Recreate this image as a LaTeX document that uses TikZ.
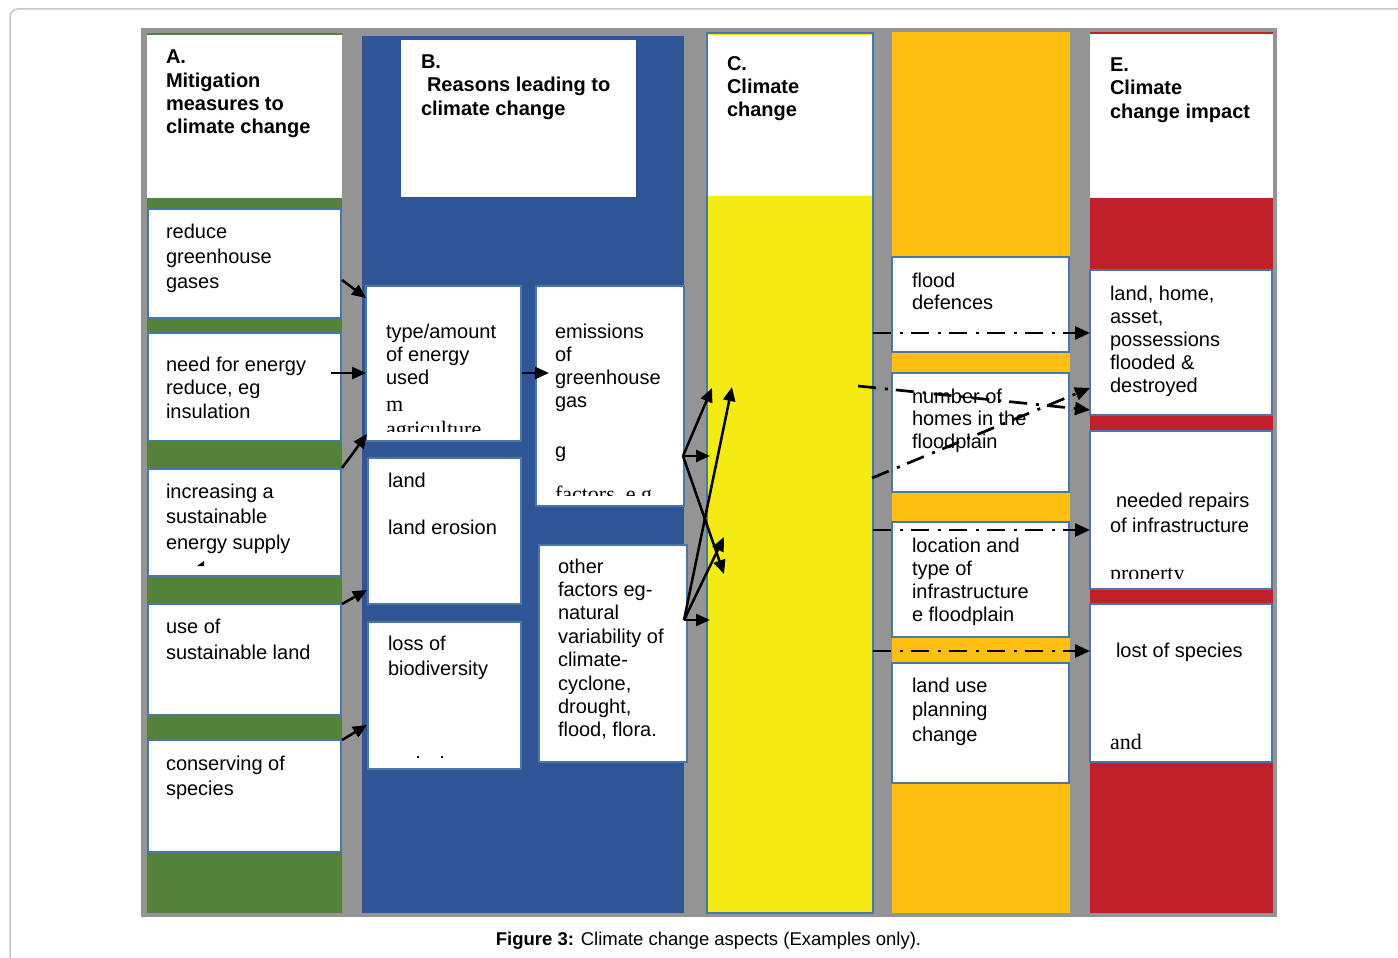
\documentclass[tikz,border=0pt]{standalone}
\usepackage{fontspec}
\setmainfont{Liberation Sans}
\newfontfamily\serifrag{Liberation Serif}
\usetikzlibrary{arrows.meta}
\definecolor{cgreen}{HTML}{54823A}
\definecolor{cblue}{HTML}{2F5597}
\definecolor{cyellow}{HTML}{F5EB14}
\definecolor{corange}{HTML}{FCBF12}
\definecolor{cred}{HTML}{C02028}
\definecolor{cgray}{HTML}{949494}
\definecolor{bbord}{HTML}{4A76A8}
\definecolor{frame}{HTML}{C8C8C8}
\tikzset{
  box/.style={draw=bbord, line width=2pt, fill=white, anchor=north west, inner sep=0pt, outer sep=0pt},
  head/.style={fill=white, anchor=north west, inner sep=0pt, outer sep=0pt},
  txt/.style={anchor=north west, inner sep=0pt, outer sep=0pt, align=left},
  arr/.style={line width=2.5pt, -{Triangle[length=14pt,width=12pt]}},
  darr/.style={line width=2.7pt, dash pattern=on 18pt off 9pt on 3pt off 8pt, -{Triangle[length=15pt,width=13pt]}},
}
\newcommand\ptext[7]{\node[txt,font={\fontsize{#4}{#5}\selectfont#6}] (#1) at (#2,{#3-0.7*#5}) {\strut #7};}
\begin{document}
\begin{tikzpicture}[x=1pt,y=-1pt]
\useasboundingbox (0,0) rectangle (1398,958);
% outer frame
\draw[frame, line width=1.5pt, rounded corners=8pt] (10,980) -- (10,9) -- (1430,9);
% gray background
\fill[cgray] (141,28) rectangle (1277,917);
% columns
\fill[cgreen] (147,33) rectangle (342,913);
\fill[cblue] (362,36) rectangle (684,913);
\draw[bbord, fill=cyellow, line width=1.5pt] (707,33) rectangle (873,913);
\fill[corange] (892,32) rectangle (1070,913);
\fill[cred] (1090,32) rectangle (1273,913);
% headers
\node[head, minimum width=195, minimum height=162.5] (hA) at (147,35.5) {};
\node[head, minimum width=235, minimum height=157] (hB) at (401,40) {};
\node[head, minimum width=164, minimum height=161] (hC) at (708,35) {};
\node[head, minimum width=183, minimum height=164] (hE) at (1090,34) {};
% A boxes
\node[box, minimum width=193, minimum height=109] (a1) at (148,209) {};
\node[box, minimum width=193, minimum height=108] (a2) at (148,333) {};
\node[box, minimum width=193, minimum height=107] (a3) at (148,469) {};
\node[box, minimum width=193, minimum height=111] (a4) at (148,604) {};
\node[box, minimum width=193, minimum height=112] (a5) at (148,740) {};
% B boxes
\node[box, minimum width=155, minimum height=155] (b1) at (366,286) {};
\node[box, minimum width=148, minimum height=220] (b2) at (536,286) {};
\node[box, minimum width=153, minimum height=146] (b3) at (368,458) {};
\node[box, minimum width=153, minimum height=147] (b4) at (368,622) {};
\node[box, minimum width=148, minimum height=217] (b5) at (539,545) {};
% D boxes
\node[box, minimum width=177, minimum height=95] (d1) at (892,257) {};
\node[box, minimum width=177, minimum height=119] (d2) at (892,373) {};
\node[box, minimum width=177, minimum height=115] (d3) at (892,522) {};
\node[box, minimum width=177, minimum height=120] (d4) at (892,663) {};
% E boxes
\node[box, minimum width=182, minimum height=145] (e1) at (1090,270) {};
\node[box, minimum width=182, minimum height=158] (e2) at (1090,431) {};
\node[box, minimum width=182, minimum height=158] (e3) at (1090,604) {};
% header texts
\ptext{hAt}{166}{64}{20}{23.3}{\bfseries}{A.\\Mitigation\\measures to\\climate change}
\ptext{hBt}{421}{68.5}{20}{23.3}{\bfseries}{B.\\\hspace*{6pt}Reasons leading to\\climate change}
\ptext{hCt}{727}{70.7}{20}{23}{\bfseries}{C.\\Climate\\change}
\ptext{hEt}{1110}{71.5}{20}{23.3}{\bfseries}{E.\\Climate\\change impact}
% A texts
\ptext{a1t}{166}{238}{20}{25}{}{reduce\\greenhouse\\gases}
\ptext{a2t}{166}{371}{20}{23.5}{}{need for energy\\reduce, eg\\insulation}
\ptext{a3t}{166}{498}{20}{25.5}{}{increasing a\\sustainable\\energy supply}
\ptext{a4t}{166}{633}{20}{26}{}{use of\\sustainable land}
\ptext{a5t}{166}{770}{20}{25}{}{conserving of\\species}
\fill (197,566) -- (204,561) -- (204,566) -- cycle;
% B texts
\ptext{b1t}{386}{338}{20}{23.3}{}{type/amount\\of energy\\used}
\ptext{b1m}{386}{411}{22}{24}{\serifrag}{m}
\begin{scope}
\clip (366,415) rectangle (521,431);
\ptext{b1a}{386}{436}{22}{24}{\serifrag}{agriculture}
\end{scope}
\ptext{b2t}{555}{338}{20}{23.3}{}{emissions\\of\\greenhouse\\gas}
\ptext{b2g}{555}{457}{20}{24}{}{g}
\begin{scope}
\clip (536,480) rectangle (684,495);
\ptext{b2f}{555}{501}{22}{24}{\serifrag}{factors, e.g.}
\end{scope}
\ptext{b3t}{388}{487}{20}{47}{}{land\\land erosion}
\ptext{b4t}{388}{650}{20}{25}{}{loss of\\biodiversity}
\fill (417,756) rectangle (419,758);
\fill (441,756) rectangle (443,758);
\ptext{b5t}{558}{573}{20}{23.4}{}{other\\factors eg-\\natural\\variability of\\climate-\\cyclone,\\drought,\\flood, flora.}
% D texts
\ptext{d1t}{912}{287}{20}{22.7}{}{flood\\defences}
\ptext{d2t}{912}{403}{20}{22.7}{}{number of\\homes in the\\floodplain}
\ptext{d3t}{912}{552}{20}{23.3}{}{location and\\type of\\infrastructure\\e floodplain}
\ptext{d4t}{912}{692}{20}{24.5}{}{land use\\planning\\change}
% E texts
\ptext{e1t}{1110}{300}{20}{23.2}{}{land, home,\\asset,\\possessions\\flooded \&\\destroyed}
\ptext{e2t}{1110}{507}{20}{25}{}{\hspace*{6pt}needed repairs\\of infrastructure}
\begin{scope}
\clip (1090,560) rectangle (1272,578);
\ptext{e2p}{1110}{580}{22}{24}{\serifrag}{property}
\end{scope}
\ptext{e3t}{1116}{657}{20}{25}{}{lost of species}
\ptext{e3a}{1110}{749}{22}{24}{\serifrag}{and}
% caption
\node[font=\fontsize{18.5}{22}\selectfont, anchor=base, inner sep=0pt] (cap) at (708.5,945) {\textbf{Figure 3:} Climate change aspects (Examples only).};
% solid arrows
\coordinate (s1) at (342,280); \coordinate (t1) at (366,298);
\coordinate (s2) at (331,373);
\coordinate (s3) at (342,468); \coordinate (t3) at (367,434);
\coordinate (s4) at (342,604); \coordinate (t4) at (367,590);
\coordinate (s5) at (342,740); \coordinate (t5) at (367,725);
\coordinate (s6) at (522,373); \coordinate (t6) at (549,373);
\coordinate (s7) at (683,456);
\coordinate (t7a) at (712,388); \coordinate (t7b) at (710,456); \coordinate (t7c) at (724,574);
\coordinate (s8) at (684,620);
\coordinate (t8a) at (732,387); \coordinate (t8b) at (724,537); \coordinate (t8c) at (710,620);
\draw[arr] (s1) -- (t1);
\draw[arr] (s2) -- (b1.west |- s2);
\draw[arr] (s3) -- (t3);
\draw[arr] (s4) -- (t4);
\draw[arr] (s5) -- (t5);
\draw[arr] (s6) -- (t6);
\draw[arr] (s7) -- (t7a);
\draw[arr] (s7) -- (t7b);
\draw[arr] (s7) -- (t7c);
\draw[arr] (s8) -- (t8a);
\draw[arr] (s8) -- (t8b);
\draw[arr] (s8) -- (t8c);
% dash-dot arrows
\coordinate (u1) at (873,333);
\coordinate (u2) at (858,386); \coordinate (v2) at (1090,410);
\coordinate (u3) at (872,478); \coordinate (v3) at (1090,388);
\coordinate (u4) at (873,530);
\coordinate (u5) at (873,651);
\draw[darr] (u1) -- (e1.west |- u1);
\draw[darr] (u2) -- (v2);
\draw[darr] (u3) -- (v3);
\draw[darr] (u4) -- (e2.west |- u4);
\draw[darr] (u5) -- (e3.west |- u5);
\end{tikzpicture}
\end{document}
